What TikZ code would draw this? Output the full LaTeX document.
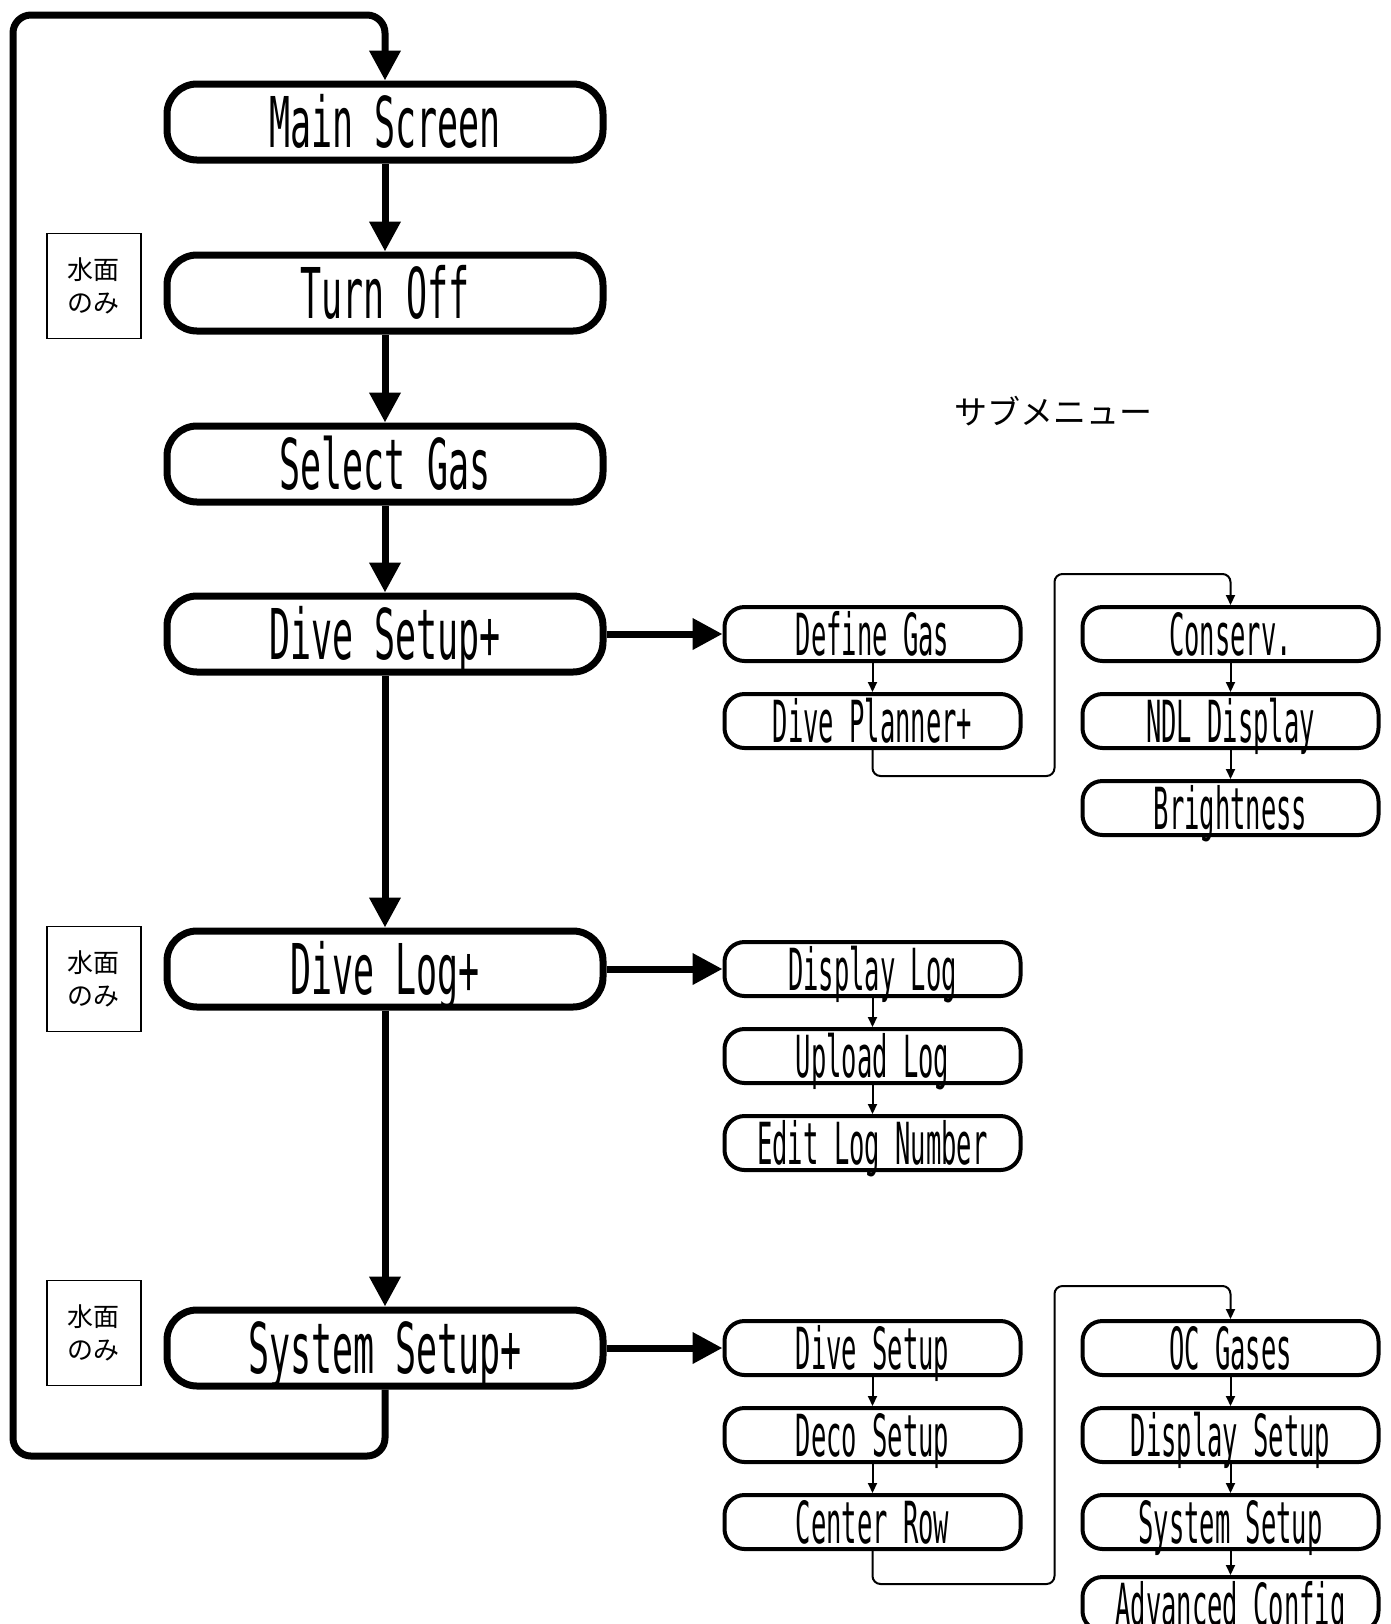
\documentclass[tikz,border=0pt]{standalone}
\usepackage{fontspec}
\newfontfamily\lcdfont[FakeStretch=0.5]{DejaVu Sans Mono}
\newfontfamily\lcdsmall[FakeStretch=0.44]{DejaVu Sans Mono}
\newfontfamily\jpfont{Noto Sans CJK JP}
\usetikzlibrary{positioning,arrows.meta}
\begin{document}
\begin{tikzpicture}[
  x=0.5pt,y=-0.5pt,
  mainbox/.style={rectangle,draw,line width=3.5pt,rounded corners=15pt,minimum width=218pt,inner sep=0pt,text height=31.5pt,text depth=6.5pt,font=\lcdfont\fontsize{35}{40}\selectfont},
  subbox/.style={rectangle,draw,line width=2pt,rounded corners=10pt,minimum width=148pt,inner sep=0pt,text height=24pt,text depth=3pt,font=\lcdsmall\fontsize{29}{32}\selectfont},
  note/.style={rectangle,draw,line width=0.8pt,minimum width=47pt,minimum height=52.5pt,align=center,font=\jpfont\fontsize{13}{16.5}\selectfont},
  arrow/.style={-{Triangle[length=15pt,width=15pt]},line width=3.5pt},
  subarrow/.style={-{Triangle[length=5pt,width=4.5pt]},line width=1pt,rounded corners=4pt}
]
\useasboundingbox (0,0) rectangle (1391,1624);

\node[mainbox] (m1) at (385,122) {Main Screen};
\node[mainbox,below=44pt of m1] (m2) {Turn Off};
\node[mainbox,below=44pt of m2] (m3) {Select Gas};
\node[mainbox,below=43.5pt of m3] (m4) {Dive Setup+};
\node[mainbox,below=126pt of m4] (m5) {Dive Log+};
\node[mainbox,below=148pt of m5] (m6) {System Setup+};

\node[note,left=11pt of m2,yshift=3.5pt] (n1) {水面\\のみ};
\node[note,left=11pt of m5,yshift=-5pt] (n2) {水面\\のみ};
\node[note,left=11pt of m6,yshift=7.5pt] (n3) {水面\\のみ};

\node[font=\jpfont\fontsize{16.5}{20}\selectfont] (t1) at (1053,411) {サブメニュー};

\node[subbox,right=58pt of m4] (s1) {Define Gas};
\node[subbox,below=14.5pt of s1] (s2) {Dive Planner+};
\node[subbox,right=29pt of s1] (s3) {Conserv.};
\node[subbox,below=14.5pt of s3] (s4) {NDL Display};
\node[subbox,below=14.5pt of s4] (s5) {Brightness};

\node[subbox,right=58pt of m5] (s6) {Display Log};
\node[subbox,below=14.5pt of s6] (s7) {Upload Log};
\node[subbox,below=14.5pt of s7] (s8) {Edit Log Number};

\node[subbox,right=58pt of m6] (s9) {Dive Setup};
\node[subbox,below=14.5pt of s9] (s10) {Deco Setup};
\node[subbox,below=14.5pt of s10] (s11) {Center Row};
\node[subbox,right=29pt of s9] (s12) {OC Gases};
\node[subbox,below=14.5pt of s12] (s13) {Display Setup};
\node[subbox,below=14.5pt of s13] (s14) {System Setup};
\node[subbox,below=12pt of s14] (s15) {Advanced Config};

\coordinate (lb) at (13,1456);
\coordinate (lt) at (13,15);

\draw[arrow] (m1) -- (m2);
\draw[arrow] (m2) -- (m3);
\draw[arrow] (m3) -- (m4);
\draw[arrow] (m4) -- (m5);
\draw[arrow] (m5) -- (m6);
\draw[arrow,rounded corners=9pt] (m6.south) |- (lb) -- (lt) -| (m1.north);

\draw[arrow] (m4) -- (s1);
\draw[arrow] (m5) -- (s6);
\draw[arrow] (m6) -- (s9);

\draw[subarrow] (s1) -- (s2);
\draw[subarrow] (s2.south) |- ++(182,26) -- ++(0,-202) -| (s3.north);
\draw[subarrow] (s3) -- (s4);
\draw[subarrow] (s4) -- (s5);
\draw[subarrow] (s6) -- (s7);
\draw[subarrow] (s7) -- (s8);
\draw[subarrow] (s9) -- (s10);
\draw[subarrow] (s10) -- (s11);
\draw[subarrow] (s11.south) |- ++(182,33) -- ++(0,-298) -| (s12.north);
\draw[subarrow] (s12) -- (s13);
\draw[subarrow] (s13) -- (s14);
\draw[subarrow] (s14) -- (s15);
\end{tikzpicture}
\end{document}
